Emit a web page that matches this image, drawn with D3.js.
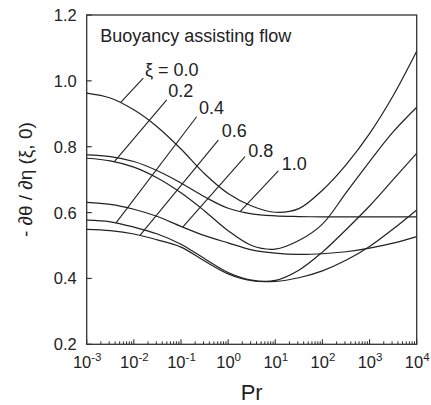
<!DOCTYPE html>
<html>
<head>
<meta charset="utf-8">
<script src="https://cdn.jsdelivr.net/npm/d3@7"></script>
<style>
  html, body { margin: 0; padding: 0; background: #fff; }
  svg { display: block; font-family: "Liberation Sans", Arial, Helvetica, sans-serif; }
</style>
</head>
<body>
<svg id="chart" width="431" height="405"></svg>
<script>
// Prandtl numbers at which the wall heat-flux curves are sampled
const prValues = [0.001, 0.00316, 0.01, 0.0316, 0.1, 0.316, 1, 3.16, 10, 31.6, 100, 316, 1000, 3160, 10000];

// -dθ/dη(ξ,0) for each ξ
const xi00 = [0.963, 0.948, 0.912, 0.860, 0.793, 0.718, 0.658, 0.620, 0.601, 0.612, 0.668, 0.745, 0.840, 0.955, 1.090];
const xi02 = [0.765, 0.757, 0.738, 0.705, 0.660, 0.605, 0.545, 0.500, 0.489, 0.515, 0.565, 0.660, 0.755, 0.845, 0.920];
const xi04 = [0.577, 0.572, 0.556, 0.535, 0.504, 0.460, 0.418, 0.395, 0.394, 0.425, 0.480, 0.548, 0.620, 0.700, 0.780];
const xi06 = [0.549, 0.545, 0.535, 0.517, 0.495, 0.453, 0.414, 0.393, 0.391, 0.402, 0.423, 0.455, 0.497, 0.550, 0.608];
const xi08 = [0.631, 0.625, 0.610, 0.588, 0.558, 0.530, 0.508, 0.487, 0.477, 0.473, 0.475, 0.481, 0.492, 0.507, 0.527];
const xi10 = [0.775, 0.770, 0.755, 0.727, 0.690, 0.648, 0.613, 0.596, 0.590, 0.588, 0.587, 0.587, 0.587, 0.587, 0.587];
const seriesValues = [xi00, xi02, xi04, xi06, xi08, xi10];

// Curve labels: text, anchor (Pr, value), leader start (Pr, value), leader target Pr on the curve
const labelText  = ["ξ = 0.0", "0.2", "0.4", "0.6", "0.8", "1.0"];
const labelPr    = [0.01726, 0.0538, 0.241, 0.731, 2.68, 13.7];
const labelVal   = [1.016, 0.952, 0.899, 0.830, 0.769, 0.729];
const leaderPr   = [0.0159, 0.0498, 0.215, 0.619, 2.28, 11.6];
const leaderVal  = [1.008, 0.942, 0.891, 0.820, 0.770, 0.727];
const targetPr   = [0.00525, 0.00386, 0.00419, 0.0135, 0.1087, 1.79];

// Axis ticks
const yTicks = [0.2, 0.4, 0.6, 0.8, 1.0, 1.2];
const xDecades = [-3, -2, -1, 0, 1, 2, 3, 4];

const svg = d3.select("#chart");
const plotL = 86.7, plotR = 416.7, plotT = 15, plotB = 344.3;
const ink = "#222";

const x = d3.scaleLog().domain([1e-3, 1e4]).range([plotL, plotR]);
const y = d3.scaleLinear().domain([0.2, 1.2]).range([plotB, plotT]);

// frame
svg.append("rect")
  .attr("x", plotL).attr("y", plotT)
  .attr("width", plotR - plotL).attr("height", plotB - plotT)
  .attr("fill", "none").attr("stroke", "#333").attr("stroke-width", 1.3);

// y ticks (inward) and labels
const gy = svg.append("g");
gy.selectAll("line").data(yTicks).join("line")
  .attr("x1", plotL).attr("x2", plotL + 5)
  .attr("y1", d => y(d)).attr("y2", d => y(d))
  .attr("stroke", "#333").attr("stroke-width", 1.2);
gy.selectAll("text").data(yTicks).join("text")
  .attr("x", plotL - 10).attr("y", d => y(d)).attr("dy", "0.36em")
  .attr("text-anchor", "end").attr("font-size", 16.5).attr("fill", ink)
  .text(d => d.toFixed(1));

// x ticks: decades and minor 2..9
const gx = svg.append("g");
const majors = xDecades.map(e => Math.pow(10, e));
const minors = [];
xDecades.slice(0, -1).forEach(e => { for (let k = 2; k <= 9; k++) minors.push(k * Math.pow(10, e)); });
gx.selectAll("line.major").data(majors).join("line").attr("class", "major")
  .attr("x1", d => x(d)).attr("x2", d => x(d))
  .attr("y1", plotB).attr("y2", plotB - 5)
  .attr("stroke", "#333").attr("stroke-width", 1.1);
gx.selectAll("line.minor").data(minors).join("line").attr("class", "minor")
  .attr("x1", d => x(d)).attr("x2", d => x(d))
  .attr("y1", plotB).attr("y2", plotB - 3)
  .attr("stroke", "#333").attr("stroke-width", 1);
const xl = gx.selectAll("text").data(xDecades).join("text")
  .attr("x", d => x(Math.pow(10, d)) + 0.5).attr("y", plotB + 24)
  .attr("text-anchor", "middle").attr("fill", ink).attr("font-size", 16.5);
xl.append("tspan").text("10");
xl.append("tspan").attr("dy", -7).attr("font-size", 11.5).text(d => String(d));

// axis titles
svg.append("text")
  .attr("x", (plotL + plotR) / 2).attr("y", 400)
  .attr("text-anchor", "middle").attr("font-size", 22).attr("fill", ink)
  .text("Pr");
svg.append("text")
  .attr("transform", `translate(32,${(plotT + plotB) / 2}) rotate(-90)`)
  .attr("text-anchor", "middle").attr("font-size", 19).attr("fill", ink)
  .text("- ∂θ / ∂η (ξ, 0)");

// title inside plot
svg.append("text")
  .attr("x", plotL + 13.5).attr("y", plotT + 26.7)
  .attr("font-size", 18).attr("fill", ink)
  .text("Buoyancy assisting flow");

// curves
const line = d3.line()
  .x(d => x(d[0])).y(d => y(d[1]))
  .curve(d3.curveCatmullRom.alpha(0.5));
const paths = svg.append("g").selectAll("path")
  .data(seriesValues.map(vals => prValues.map((p, i) => [p, vals[i]])))
  .join("path")
  .attr("d", line)
  .attr("fill", "none").attr("stroke", ink).attr("stroke-width", 1.2);

// find the point of a curve at a given Pr by searching along its length
function pointOnPath(node, px) {
  let lo = 0, hi = node.getTotalLength();
  for (let i = 0; i < 40; i++) {
    const mid = (lo + hi) / 2;
    if (node.getPointAtLength(mid).x < px) lo = mid; else hi = mid;
  }
  return node.getPointAtLength((lo + hi) / 2);
}

// labels and leaders
const nodes = paths.nodes();
const gl = svg.append("g");
labelText.forEach((t, i) => {
  const tp = pointOnPath(nodes[i], x(targetPr[i]));
  gl.append("line")
    .attr("x1", x(leaderPr[i])).attr("y1", y(leaderVal[i]))
    .attr("x2", tp.x).attr("y2", tp.y)
    .attr("stroke", ink).attr("stroke-width", 1.1);
  gl.append("text")
    .attr("x", x(labelPr[i])).attr("y", y(labelVal[i]))
    .attr("font-size", 18).attr("fill", ink)
    .text(t);
});
</script>
</body>
</html>
